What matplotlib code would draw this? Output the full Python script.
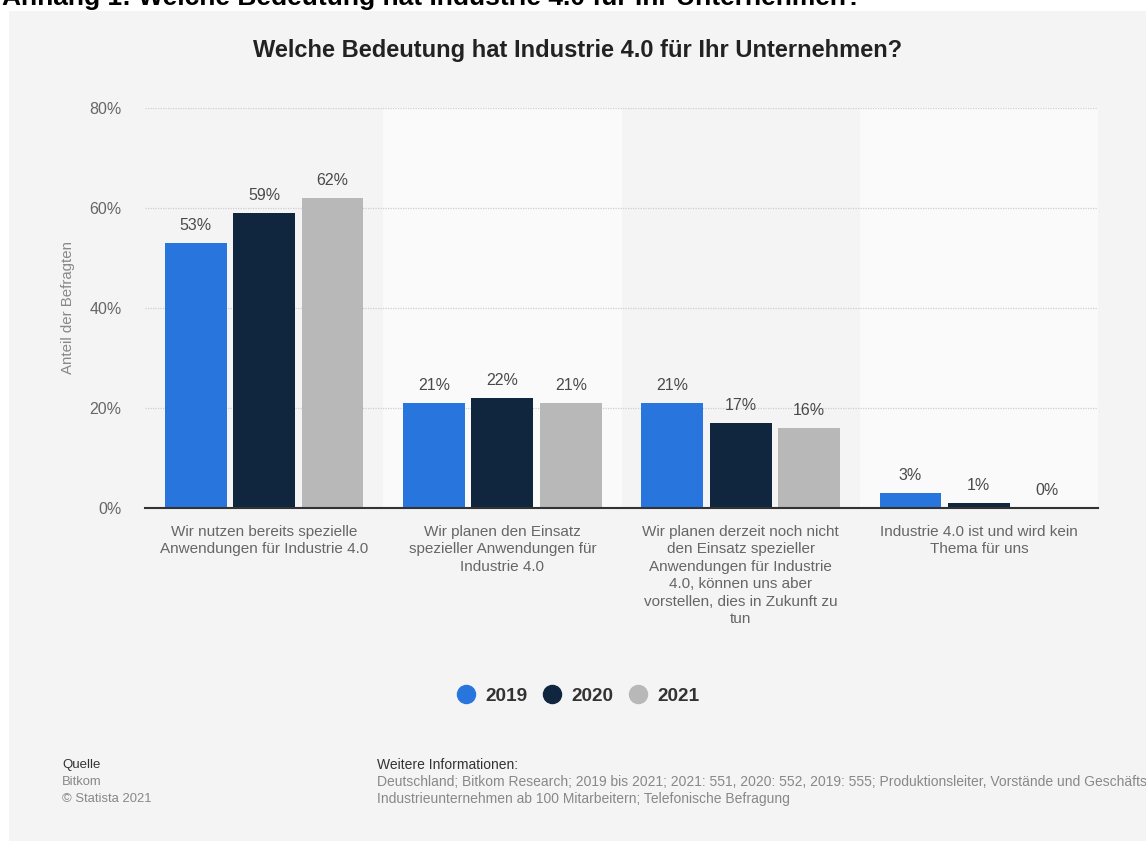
import numpy as np
import matplotlib.pyplot as plt
from matplotlib.patches import Rectangle

plt.rcParams['font.family'] = ['Liberation Sans', 'DejaVu Sans']

# Survey data: share of respondents per answer and year
categories = [
    'Wir nutzen bereits spezielle\nAnwendungen für Industrie 4.0',
    'Wir planen den Einsatz\nspezieller Anwendungen für\nIndustrie 4.0',
    'Wir planen derzeit noch nicht\nden Einsatz spezieller\nAnwendungen für Industrie\n4.0, können uns aber\nvorstellen, dies in Zukunft zu\ntun',
    'Industrie 4.0 ist und wird kein\nThema für uns',
]
years = ['2019', '2020', '2021']
v2019 = [53, 21, 21, 3]
v2020 = [59, 22, 17, 1]
v2021 = [62, 21, 16, 0]
colors = ['#2876dd', '#10263e', '#b8b8b8']

W, H = 1146, 843
fig = plt.figure(figsize=(W / 100, H / 100), dpi=100, facecolor='white')

# light grey card behind everything
fig.patches.append(Rectangle((9 / W, 2 / H), 1, (841 - 11) / H,
                             transform=fig.transFigure, facecolor='#f4f4f4',
                             edgecolor='none', zorder=-10))

# heading above the card (partly cut off at the top)
fig.text(2 / W, 1 - 5 / H,
         'Anhang 1: Welche Bedeutung hat Industrie 4.0 für Ihr Unternehmen?',
         fontsize=19, fontweight='bold', color='black', va='baseline', ha='left')

ax = fig.add_axes([145 / W, 1 - 508 / H, (1098 - 145) / W, (508 - 108) / H])
ax.set_facecolor('none')
ax.set_zorder(2)

x = np.arange(len(categories))
offset = 0.287
width = 0.26
for k, (vals, c) in enumerate(zip([v2019, v2020, v2021], colors)):
    pos = x + (k - 1) * offset
    ax.bar(pos, vals, width=width, color=c, zorder=3, label=years[k])
    for px, v in zip(pos, vals):
        ax.annotate(f'{v}%', (px, v), xytext=(0, 7), textcoords='offset points',
                    ha='center', va='bottom', fontsize=11.5, color='#4a4a4a')

# alternating background bands
for i in [1, 3]:
    ax.axvspan(i - 0.5, i + 0.5, facecolor='#fafafa', edgecolor='none', zorder=0)

ax.set_xlim(-0.5, 3.5)
ax.set_ylim(0, 80)
ax.set_yticks([0, 20, 40, 60, 80])
ax.set_yticklabels(['0%', '20%', '40%', '60%', '80%'])
for yv in [20, 40, 60, 80]:
    ax.axhline(yv, color='#cfcfcf', linewidth=0.9, linestyle=(0, (1, 1)), zorder=1)

ax.set_xticks(x)
ax.set_xticklabels(categories, fontsize=11, color='#666666', linespacing=1.32,
                   va='top')
ax.tick_params(axis='x', length=0, pad=12)
ax.tick_params(axis='y', length=0, pad=17, labelsize=11.5, labelcolor='#666666')

for s in ['top', 'right', 'left']:
    ax.spines[s].set_visible(False)
ax.spines['bottom'].set_color('#333333')
ax.spines['bottom'].set_linewidth(1.5)
ax.spines['bottom'].set_zorder(4)

ax.set_ylabel('Anteil der Befragten', fontsize=10.8, color='#888888', labelpad=10)

fig.text(578 / W, 1 - 50 / H,
         'Welche Bedeutung hat Industrie 4.0 für Ihr Unternehmen?',
         ha='center', va='center', fontsize=17, fontweight='bold', color='#222222')

# legend with round markers
handles = [plt.Line2D([], [], marker='o', linestyle='none', markersize=13,
                      markerfacecolor=c, markeredgecolor=c) for c in colors]
leg = fig.legend(handles, years, loc='center', bbox_to_anchor=(578 / W, 1 - 696 / H),
                 ncol=3, frameon=False, handlelength=1.0, handletextpad=0.5,
                 columnspacing=0.8, prop={'weight': 'bold', 'size': 13.7})
for t in leg.get_texts():
    t.set_color('#333333')

# footer
fig.text(62 / W, 1 - 765 / H, 'Quelle', fontsize=9.5, color='#333333', va='center')
fig.text(62 / W, 1 - 782 / H, 'Bitkom', fontsize=9.4, color='#888888', va='center')
fig.text(62 / W, 1 - 799 / H, '© Statista 2021', fontsize=9.4, color='#888888', va='center')
fig.text(377 / W, 1 - 765 / H, 'Weitere Informationen:', fontsize=10, color='#333333', va='center')
fig.text(377 / W, 1 - 782 / H,
         'Deutschland; Bitkom Research; 2019 bis 2021; 2021: 551, 2020: 552, 2019: 555; '
         'Produktionsleiter, Vorstände und Geschäftsführer von',
         fontsize=10, color='#888888', va='center')
fig.text(377 / W, 1 - 799 / H,
         'Industrieunternehmen ab 100 Mitarbeitern; Telefonische Befragung',
         fontsize=10, color='#888888', va='center')

fig.savefig('out.png', dpi=100, facecolor='white')
